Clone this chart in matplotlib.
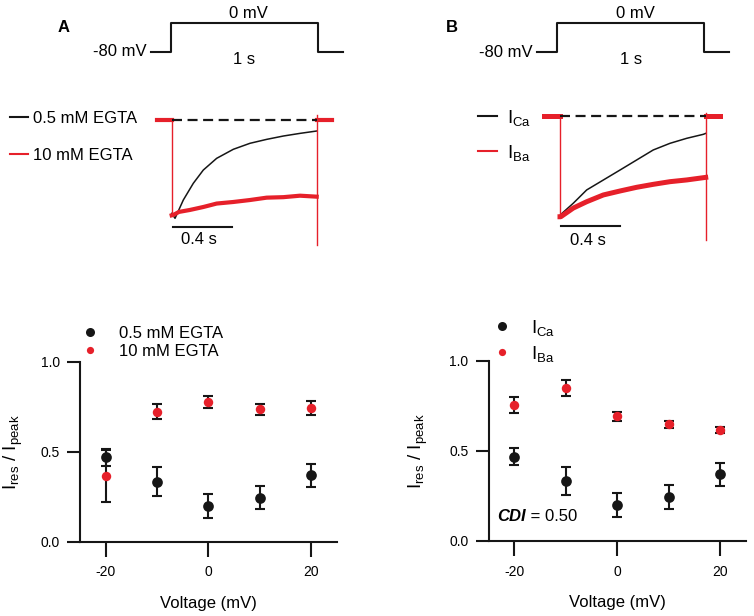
import matplotlib.pyplot as plt
from matplotlib.lines import Line2D

plt.rcParams['font.family'] = 'Liberation Sans'
plt.rcParams['mathtext.fontset'] = 'custom'
plt.rcParams['mathtext.rm'] = 'Liberation Sans'
plt.rcParams['mathtext.it'] = 'Liberation Sans:italic'
plt.rcParams['mathtext.bf'] = 'Liberation Sans:bold'
plt.rcParams['axes.unicode_minus'] = False

RED = '#e6202a'
INK = '#161616'

# --- voltage protocol (s, mV)
prot_t = [-0.135, 0, 0, 1, 1, 1.17]
prot_v = [-80, -80, 0, 0, -80, -80]

# --- current traces, normalised to peak (time in s)
tA_black = [0.0, 0.023, 0.08, 0.149, 0.218, 0.31, 0.425, 0.54, 0.655, 0.77, 0.885, 1.0]
iA_black = [-0.95, -1.0, -0.814, -0.644, -0.509, -0.39, -0.298, -0.237, -0.197, -0.163, -0.136, -0.112]
tA_red = [0.0, 0.011, 0.05, 0.126, 0.218, 0.31, 0.425, 0.54, 0.655, 0.77, 0.885, 1.0]
iA_red = [-0.97, -0.966, -0.935, -0.915, -0.885, -0.85, -0.834, -0.814, -0.79, -0.785, -0.77, -0.78]
baseA_t = [-0.103, 1.103]
tailA = [0.05, -1.27]   # capacitive transient at pulse end

tB_black = [0.012, 0.091, 0.183, 0.297, 0.412, 0.526, 0.64, 0.755, 0.87, 0.984, 1.0]
iB_black = [-0.954, -0.853, -0.723, -0.626, -0.528, -0.43, -0.332, -0.267, -0.218, -0.179, -0.17]
tB_red = [0.0, 0.005, 0.091, 0.183, 0.297, 0.412, 0.526, 0.64, 0.755, 0.87, 0.984, 1.0]
iB_red = [-0.985, -0.985, -0.9, -0.838, -0.772, -0.733, -0.697, -0.668, -0.642, -0.625, -0.603, -0.6]
baseB_t = [-0.11, 1.098]
tailB = [0.03, -1.21]

# --- residual / peak current vs voltage
volts = [-20, -10, 0, 10, 20]
ca_mean = [0.469, 0.334, 0.198, 0.245, 0.370]
ca_sem = [0.047, 0.079, 0.067, 0.066, 0.064]
egta10_mean = [0.365, 0.722, 0.778, 0.735, 0.744]
egta10_sem = [0.143, 0.042, 0.033, 0.031, 0.040]
ba_mean = [0.756, 0.850, 0.693, 0.648, 0.617]
ba_sem = [0.045, 0.043, 0.025, 0.020, 0.015]

W, H = 754, 616
fig = plt.figure(figsize=(W / 100, H / 100), dpi=100)


def px_axes(x0, y0, x1, y1):
    return fig.add_axes([x0 / W, 1 - y1 / H, (x1 - x0) / W, (y1 - y0) / H])


def free_axes(x_at0, sx, y_at0, sy, xlim, ylim):
    # axes whose data units map to a fixed pixel scale
    ax = px_axes(x_at0 + xlim[0] * sx, y_at0 - ylim[1] * sy,
                 x_at0 + xlim[1] * sx, y_at0 - ylim[0] * sy)
    ax.set_xlim(xlim)
    ax.set_ylim(ylim)
    ax.axis('off')
    return ax


def protocol(x_at0, sx, y_at0, sy):
    ax = free_axes(x_at0, sx, y_at0, sy, (-0.3, 1.25), (-115, 40))
    ax.plot(prot_t, prot_v, color=INK, lw=1.5)
    ax.text(-0.165, -80, '-80 mV', ha='right', va='center', fontsize=12)
    ax.text(0.53, 26, '0 mV', ha='center', va='center', fontsize=12)
    ax.text(0.5, -101, '1 s', ha='center', va='center', fontsize=12)


def traces(x_at0, sx, y_at0, sy, tb, ib, tr, ir, base_t, tail, bar_y, red_lw):
    ax = free_axes(x_at0, sx, y_at0, sy, (-0.15, 1.2), (-1.4, 0.15))
    ax.plot(tb, ib, color=INK, lw=1.1)
    # baseline before / after the step
    ax.plot([base_t[0], 0], [0, 0], color=RED, lw=red_lw)
    ax.plot([1, base_t[1]], [0, 0], color=RED, lw=red_lw)
    # thin capacitive edges
    ax.plot([0, 0], [0, ir[0]], color=RED, lw=1.0)
    ax.plot([1, 1], tail, color=RED, lw=1.0)
    ax.plot(tr, ir, color=RED, lw=red_lw)
    ax.plot([0, 1], [0, 0], color=INK, lw=1.6, dashes=(4.5, 2.5))
    ax.plot([0.01, 0.415], [bar_y, bar_y], color=INK, lw=1.5)
    ax.text(0.19, bar_y - 0.135, '0.4 s', ha='center', va='center', fontsize=12)
    return ax


def scatter_panel(ax, red_mean, red_sem, labels, leg_anchor, leg_space, leg_fs):
    ax.errorbar(volts, ca_mean, yerr=ca_sem, fmt='none', ecolor=INK,
                elinewidth=1.5, capsize=3.5, capthick=1.5)
    ax.plot(volts, ca_mean, 'o', color=INK, ms=7.7, mew=0)
    ax.errorbar(volts, red_mean, yerr=red_sem, fmt='none', ecolor=INK,
                elinewidth=1.5, capsize=3.5, capthick=1.5)
    ax.plot(volts, red_mean, 'o', color=RED, ms=6.8, mew=0)
    ax.set_xlim(-25, 25.1)
    ax.set_ylim(0, 1.0)
    ax.set_xticks([-20, 0, 20])
    ax.set_yticks([0, 0.5, 1.0])
    ax.set_yticklabels(['0.0', '0.5', '1.0'])
    for s in ['top', 'right']:
        ax.spines[s].set_visible(False)
    for s in ['left', 'bottom']:
        ax.spines[s].set_linewidth(1.5)
        ax.spines[s].set_color(INK)
    ax.tick_params(axis='x', length=11, width=1.5, labelsize=10, pad=6, color=INK)
    ax.tick_params(axis='y', length=9.5, width=1.5, labelsize=10, pad=5, color=INK)
    ax.set_xlabel('Voltage (mV)', fontsize=12)
    ax.set_ylabel(r'$\mathregular{I_{res}\ /\ I_{peak}}$', fontsize=13.5)
    handles = [Line2D([], [], ls='none', marker='o', ms=6.5, mew=0, color=INK),
               Line2D([], [], ls='none', marker='o', ms=5.2, mew=0, color=RED)]
    ax.legend(handles, labels, loc='upper left', frameon=False, fontsize=leg_fs,
              bbox_to_anchor=(leg_anchor[0] / W, 1 - leg_anchor[1] / H),
              bbox_transform=fig.transFigure, borderpad=0, borderaxespad=0,
              handlelength=12.0 / leg_fs, handletextpad=14.5 / leg_fs,
              labelspacing=leg_space)


def trace_legend(ax, labels, anchor, pad, space, fs):
    handles = [Line2D([], [], color=INK, lw=1.5), Line2D([], [], color=RED, lw=1.5)]
    ax.legend(handles, labels, loc='upper left', frameon=False, fontsize=fs,
              bbox_to_anchor=(anchor[0] / W, 1 - anchor[1] / H),
              bbox_transform=fig.transFigure, borderpad=0, borderaxespad=0,
              handlelength=13.2 / fs, handletextpad=pad, labelspacing=space)


# ---------------- panel A
fig.text(64 / W, 1 - 27 / H, 'A', fontsize=12, fontweight='bold', ha='center', va='center')
protocol(171, 146.7, 22.7, 0.3625)
axA = traces(171.7, 145, 120, 98.3, tA_black, iA_black, tA_red, iA_red,
             baseA_t, tailA, -1.085, 3.0)
trace_legend(axA, ['0.5 mM EGTA', '10 mM EGTA'], (10, 111), 0.3, 1.3, 12)

ax1 = px_axes(80, 361.7, 337, 541.7)
scatter_panel(ax1, egta10_mean, egta10_sem, ['0.5 mM EGTA', '10 mM EGTA'],
              (81.7, 325.5), 0.2, 12)
ax1.yaxis.set_label_coords(-0.214, 0.5)
ax1.xaxis.set_label_coords(0.5, -0.3)

# ---------------- panel B
fig.text(452 / W, 1 - 27 / H, 'B', fontsize=12, fontweight='bold', ha='center', va='center')
protocol(557, 147.3, 23.3, 0.359)
axB = traces(560, 145.7, 116, 102.3, tB_black, iB_black, tB_red, iB_red,
             baseB_t, tailB, -1.08, 3.6)
trace_legend(axB, [r'$\mathregular{I_{Ca}}$', r'$\mathregular{I_{Ba}}$'],
             (478.3, 107.5), 0.55, 0.82, 13.5)

ax2 = px_axes(488.7, 361, 746.3, 541)
scatter_panel(ax2, ba_mean, ba_sem, [r'$\mathregular{I_{Ca}}$', r'$\mathregular{I_{Ba}}$'],
              (494, 318), 0.3, 13.5)
ax2.yaxis.set_label_coords(-0.227, 0.5)
ax2.xaxis.set_label_coords(0.5, -0.3)
cdi = ax2.text(-23.3, 0.135, 'CDI', fontsize=12, fontweight='bold', fontstyle='italic', va='center')
ax2.annotate(' = 0.50', xy=(1, 0.5), xycoords=cdi, va='center', fontsize=12)

fig.savefig('out.png', dpi=100)
